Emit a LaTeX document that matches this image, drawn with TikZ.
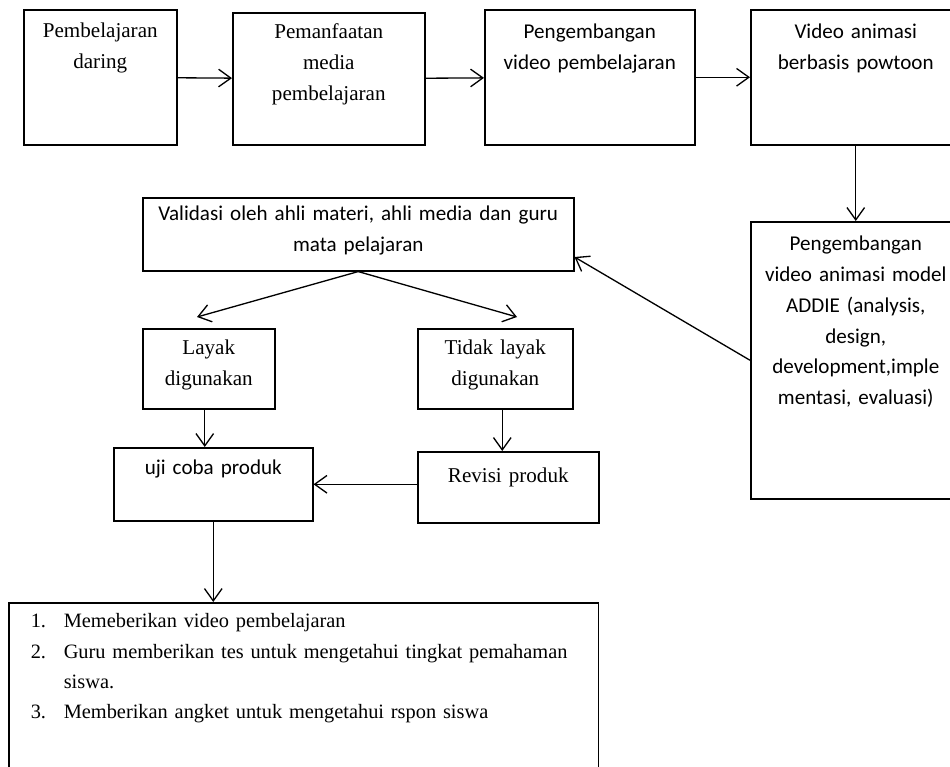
\documentclass[tikz,border=0pt]{standalone}
\usepackage{fontspec}
\setmainfont{Liberation Serif}
\newfontfamily\calibri{Carlito}
\usetikzlibrary{arrows.meta,calc}
\tikzset{
  every picture/.style={line width=0.75pt},
  sbox/.style={draw, line width=0.9pt, inner sep=0pt, anchor=north west, align=center},
  sserif/.style={sbox, font=\fontsize{12}{17.5}\selectfont},
  ssans/.style={sbox, font=\fontsize{12}{17.5}\selectfont\calibri},
  sarrow/.style={-{Straight Barb[length=7pt,width=10pt]}},
}

\begin{document}
\begin{tikzpicture}[x=0.02cm, y=-0.02cm]
  \clip (0,0) rectangle (950,767);
  % top row
  \node[sserif, text width=3.06cm, text height=0.56cm, text depth=2.14cm]
        (daring) at (23,9) {Pembelajaran\\daring};
  \node[sserif, text width=3.84cm, text height=0.52cm, text depth=2.12cm]
        (manfaat) at (232,12) {Pemanfaatan\\media\\pembelajaran};
  \node[ssans, text width=4.2cm, text height=0.58cm, text depth=2.12cm]
        (kembang) at (484,9) {Pengembangan\\video pembelajaran};
  \node[ssans, text width=4.2cm, text height=0.58cm, text depth=2.12cm]
        (powtoon) at (750,9) {Video animasi\\berbasis powtoon};
  \node[ssans, text width=4.2cm, text height=0.58cm, text depth=4.96cm]
        (addie) at (750,221) {Pengembangan\\video animasi model\\ADDIE (analysis,\\design,\\development,imple\\mentasi, evaluasi)};
  % validation branch
  \node[ssans, text width=8.62cm, text height=0.46cm, text depth=1.0cm]
        (validasi) at (142,197) {Validasi oleh ahli materi, ahli media dan guru\\mata pelajaran};
  \node[sserif, text width=2.64cm, text height=0.52cm, text depth=1.08cm]
        (layak) at (142,328) {Layak\\digunakan};
  \node[sserif, text width=3.1cm, text height=0.52cm, text depth=1.08cm]
        (tidak) at (417,328) {Tidak layak\\digunakan};
  \node[ssans, text width=3.98cm, text height=0.54cm, text depth=0.92cm]
        (uji) at (113,447) {uji coba produk};
  \node[sserif, text width=3.62cm, text height=0.62cm, text depth=0.80cm]
        (revisi) at (417,451) {Revisi produk};
  \node[sserif, font=\fontsize{11.6}{17.3}\selectfont, align=left,
        inner xsep=0.44cm, text width=10.92cm,
        text height=0.5cm, text depth=3.3cm] (list) at (8,602)
        {\makebox[0.66cm][l]{1.}Memeberikan video pembelajaran\\
         \makebox[0.66cm][l]{2.}\mbox{Guru memberikan tes untuk mengetahui tingkat pemahaman}\\
         \hspace*{0.66cm}siswa.\\
         \makebox[0.66cm][l]{3.}Memberikan angket untuk mengetahui rspon siswa};
  \coordinate (tipL) at (197,317);
  \coordinate (tipR) at (517,317);
  % arrows
  \draw[sarrow] (daring) -- (manfaat);
  \draw[sarrow] (manfaat) -- (kembang);
  \draw[sarrow] (kembang) -- (powtoon);
  \draw[sarrow] (powtoon) -- (addie);
  \draw[sarrow] (addie.west) -- (validasi.-6.5);
  \draw[sarrow] (validasi.south) -- (tipL);
  \draw[sarrow] (validasi.south) -- (tipR);
  \draw[sarrow] ([xshift=-0.08cm]layak.south) -- ([xshift=-0.08cm]layak.south |- uji.north);
  \draw[sarrow] ([xshift=0.14cm]tidak.south) -- ([xshift=0.14cm]tidak.south |- revisi.north);
  \draw[sarrow] (revisi.west |- uji.east) -- (uji.east);
  \draw[sarrow] (uji.south) -- (uji.south |- list.north);
\end{tikzpicture}
\end{document}
